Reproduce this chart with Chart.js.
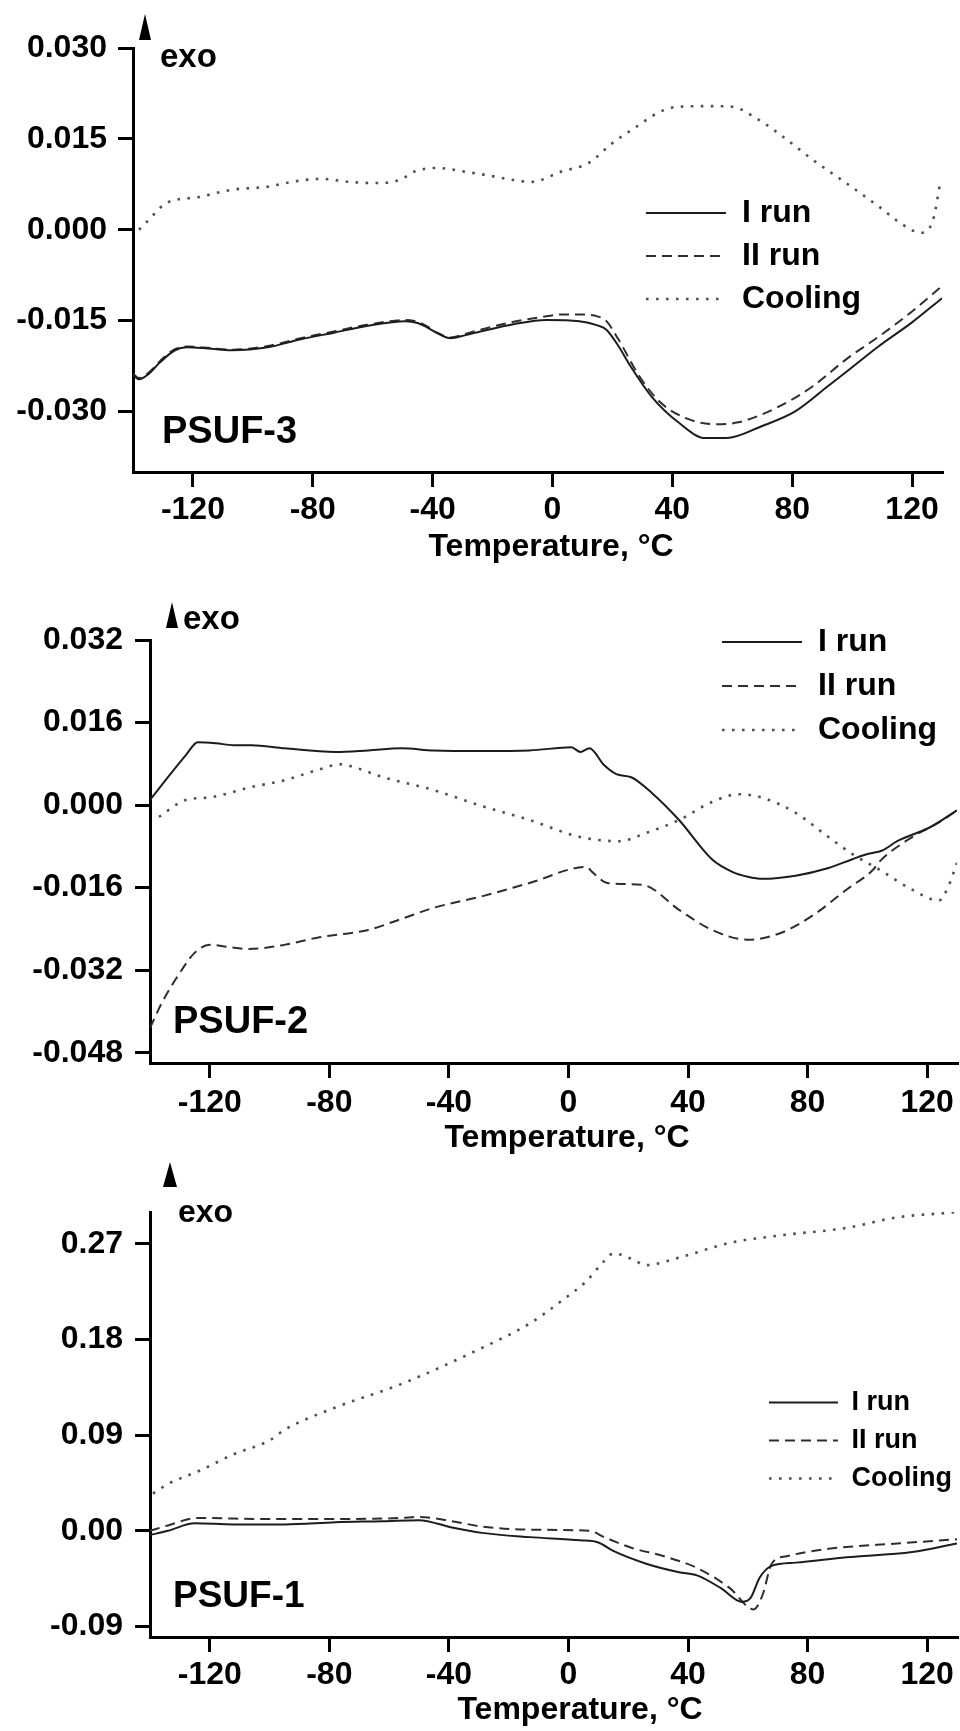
<!DOCTYPE html>
<html><head><meta charset="utf-8">
<script src="https://cdn.jsdelivr.net/npm/chart.js@4.4.1/dist/chart.umd.min.js"></script>
<style>
html,body{margin:0;padding:0;background:#fff;}
#wrap{position:relative;width:960px;height:1731px;background:#fff;}
canvas{position:absolute;left:0;}
</style></head><body>
<div id="wrap">
<canvas id="c3" width="960" height="580" style="top:0px"></canvas>
<canvas id="c2" width="960" height="580" style="top:580px"></canvas>
<canvas id="c1" width="960" height="571" style="top:1160px"></canvas>
</div>
<script>
// ---------- DATA ----------
const seriesLabels = ['I run', 'II run', 'Cooling'];
const xTicks = [-120, -80, -40, 0, 40, 80, 120];

// PSUF-3 (top panel)
const psuf3_yTicks = [-0.030, -0.015, 0.000, 0.015, 0.030];
const psuf3_T1 = [-140, -138, -135, -131, -126, -122, -115, -107, -95, -84, -73, -62, -49, -45, -42, -38, -34, -29, -24, -13, -2, 9, 15, 18, 22, 26, 33, 42, 51, 58, 70, 81, 92, 98, 109, 120, 130];
const psuf3_V1 = [-0.0240, -0.0247, -0.0239, -0.0219, -0.0199, -0.0194, -0.0196, -0.0199, -0.0194, -0.0181, -0.0170, -0.0159, -0.0151, -0.0154, -0.0161, -0.0172, -0.0179, -0.0174, -0.0168, -0.0156, -0.0149, -0.0151, -0.0158, -0.0165, -0.0192, -0.0225, -0.0275, -0.0318, -0.0344, -0.0344, -0.0324, -0.0300, -0.0258, -0.0235, -0.0192, -0.0153, -0.0113];
const psuf3_T2 = [-140, -138, -135, -131, -126, -122, -115, -107, -95, -84, -73, -62, -49, -45, -42, -38, -34, -29, -24, -13, -2, 3, 10, 15, 18, 22, 29, 36, 44, 54, 62, 76, 87, 98, 109, 120, 130];
const psuf3_V2 = [-0.0238, -0.0245, -0.0237, -0.0217, -0.0197, -0.0193, -0.0195, -0.0198, -0.0192, -0.0179, -0.0168, -0.0157, -0.0149, -0.0152, -0.0159, -0.0171, -0.0178, -0.0172, -0.0165, -0.0152, -0.0143, -0.0140, -0.0140, -0.0143, -0.0151, -0.0181, -0.0242, -0.0285, -0.0310, -0.0321, -0.0318, -0.0291, -0.0258, -0.0214, -0.0176, -0.0135, -0.0093];
const psuf3_Tc = [-138, -134, -131, -128, -118, -107, -95, -87, -77, -68, -59, -51, -46, -39, -27, -23, -13, -7, 3, 12, 20, 28, 36, 42, 53, 60, 68, 76, 87, 98, 109, 117, 123, 127, 129.5];
const psuf3_Vc = [0.0000, 0.0020, 0.0036, 0.0046, 0.0054, 0.0066, 0.0071, 0.0079, 0.0084, 0.0079, 0.0077, 0.0082, 0.0096, 0.0102, 0.0094, 0.0091, 0.0082, 0.0079, 0.0096, 0.0110, 0.0143, 0.0170, 0.0195, 0.0203, 0.0204, 0.0203, 0.0184, 0.0157, 0.0115, 0.0077, 0.0038, 0.0008, -0.0005, 0.0016, 0.0080];

// PSUF-2 (middle panel)
const psuf2_yTicks = [-0.048, -0.032, -0.016, 0.000, 0.016, 0.032];
const psuf2_T1 = [-140, -134, -128, -124, -118, -112, -106, -95, -78, -67, -56, -45, -29, -13, 1, 4, 7, 12, 16, 21, 28, 37, 48, 55, 60, 65, 76, 87, 95, 100, 105, 110, 121, 130];
const psuf2_V1 = [0.0010, 0.0054, 0.0097, 0.0122, 0.0120, 0.0116, 0.0116, 0.0110, 0.0103, 0.0106, 0.0110, 0.0106, 0.0105, 0.0106, 0.0112, 0.0103, 0.0110, 0.0077, 0.0060, 0.0054, 0.0023, -0.0029, -0.0105, -0.0130, -0.0139, -0.0143, -0.0137, -0.0122, -0.0105, -0.0095, -0.0088, -0.0070, -0.0043, -0.0010];
const psuf2_T2 = [-140, -136, -130, -125, -120, -114, -107, -95, -84, -67, -56, -45, -29, -13, 6, 8, 13, 25, 37, 48, 60, 71, 82, 93, 102, 104, 115, 125, 130];
const psuf2_V2 = [-0.0432, -0.0383, -0.0325, -0.0286, -0.0271, -0.0275, -0.0279, -0.0271, -0.0257, -0.0242, -0.0221, -0.0199, -0.0177, -0.0151, -0.0120, -0.0130, -0.0151, -0.0155, -0.0203, -0.0242, -0.0261, -0.0248, -0.0213, -0.0164, -0.0125, -0.0110, -0.0062, -0.0030, -0.0010];
const psuf2_Tc = [-137, -128, -120, -106, -95, -84, -76, -72, -62, -45, -30, -13, 4, 17, 26, 37, 48, 57, 65, 76, 87, 95, 104, 115, 124, 127, 130];
const psuf2_Vc = [-0.0023, 0.0010, 0.0015, 0.0035, 0.0048, 0.0068, 0.0079, 0.0074, 0.0054, 0.0029, 0.0000, -0.0029, -0.0062, -0.0070, -0.0054, -0.0029, 0.0006, 0.0021, 0.0014, -0.0015, -0.0062, -0.0095, -0.0125, -0.0164, -0.0185, -0.0159, -0.0112];

// PSUF-1 (bottom panel)
const psuf1_yTicks = [-0.09, 0.00, 0.09, 0.18, 0.27];
const psuf1_T1 = [-140, -134, -125, -112, -95, -78, -62, -50, -39, -29, -13, 4, 10, 15, 26, 37, 43, 51, 58, 61, 64, 68, 76, 93, 115, 130];
const psuf1_V1 = [-0.004, 0.000, 0.007, 0.006, 0.006, 0.008, 0.009, 0.010, 0.003, -0.002, -0.006, -0.009, -0.011, -0.019, -0.031, -0.039, -0.042, -0.054, -0.067, -0.063, -0.044, -0.033, -0.030, -0.025, -0.020, -0.012];
const psuf1_T2 = [-140, -134, -124, -100, -78, -56, -50, -39, -29, -13, 7, 12, 21, 32, 43, 54, 62, 65, 68, 73, 87, 110, 130];
const psuf1_V2 = [0.000, 0.005, 0.012, 0.011, 0.011, 0.012, 0.013, 0.009, 0.004, 0.001, 0.000, -0.006, -0.016, -0.024, -0.035, -0.054, -0.074, -0.060, -0.031, -0.024, -0.017, -0.012, -0.008];
const psuf1_Tc = [-139, -134, -123, -112, -100, -95, -78, -56, -29, -13, -2, 6, 12, 15, 21, 26, 37, 54, 71, 93, 110, 126, 130];
const psuf1_Vc = [0.035, 0.044, 0.057, 0.072, 0.085, 0.095, 0.116, 0.138, 0.172, 0.195, 0.217, 0.235, 0.254, 0.261, 0.256, 0.250, 0.257, 0.271, 0.278, 0.285, 0.295, 0.299, 0.300];

// ---------- RENDERING ----------
const FONT = "'Liberation Sans', Arial, Helvetica, sans-serif";
const STYLES = [
  {borderColor: '#1c1c1c', borderWidth: 2, borderDash: []},
  {borderColor: '#2e2e2e', borderWidth: 2, borderDash: [10, 6]},
  {borderColor: '#505050', borderWidth: 2.6, borderDash: [2.6, 7.4]}
];

const decor = {
  id: 'decor',
  afterLayout(chart, args, opts) {
    const lg = chart.legend;
    if (lg && opts.legendAt) {
      lg.left = opts.legendAt[0]; lg.top = opts.legendAt[1];
      lg.right = chart.width; lg.bottom = chart.height;
      lg.width = lg.right - lg.left; lg.height = lg.bottom - lg.top;
    }
  },
  afterDraw(chart, args, opts) {
    const ctx = chart.ctx;
    ctx.save();
    ctx.fillStyle = '#000';
    const a = opts.arrow;
    ctx.beginPath();
    ctx.moveTo(a[0], a[1]);
    ctx.lineTo(a[0] - a[2], a[1] + a[3]);
    ctx.lineTo(a[0] + a[2], a[1] + a[3]);
    ctx.closePath();
    ctx.fill();
    ctx.textBaseline = 'middle';
    for (const t of opts.texts) {
      ctx.font = 'bold ' + t.size + 'px ' + FONT;
      ctx.textAlign = t.align || 'left';
      ctx.fillText(t.text, t.x, t.y);
    }
    ctx.restore();
  }
};

function pts(T, V) { return T.map((t, i) => ({x: t, y: V[i]})); }

function makePanel(id, series, yTicks, yMin, yMax, dec, lay) {
  const datasets = series.map((s, i) => Object.assign({
    label: seriesLabels[i],
    data: pts(s[0], s[1]),
    pointRadius: 0,
    fill: false,
    cubicInterpolationMode: 'monotone'
  }, STYLES[i]));
  return new Chart(document.getElementById(id), {
    type: 'line',
    data: {datasets},
    plugins: [decor],
    options: {
      responsive: false,
      animation: false,
      events: [],
      layout: {padding: lay.padding},
      plugins: {
        tooltip: {enabled: false},
        title: {display: false},
        legend: {
          display: true,
          position: 'chartArea',
          align: 'start',
          labels: {
            color: '#000',
            font: {family: FONT, size: lay.legendFont, weight: 'bold'},
            usePointStyle: true,
            pointStyle: 'line',
            pointStyleWidth: lay.sampleW,
            padding: lay.legendPad,
            generateLabels: (chart) => chart.data.datasets.map((ds, i) => ({
              text: ds.label, strokeStyle: ds.borderColor, fillStyle: ds.borderColor,
              lineWidth: ds.borderWidth, lineDash: ds.borderDash, pointStyle: 'line',
              datasetIndex: i, hidden: false, fontColor: '#000'
            }))
          }
        },
        decor: dec
      },
      scales: {
        x: {
          type: 'linear', min: -140, max: 130,
          afterBuildTicks: (s) => { s.ticks = xTicks.map(v => ({value: v})); },
          afterFit: (s) => { s.height = lay.xH; },
          border: {display: true, color: '#000', width: 3},
          grid: {drawOnChartArea: false, drawTicks: true, tickLength: 15, color: '#000', lineWidth: 3},
          ticks: {color: '#000', font: {family: FONT, size: 32, weight: 'bold'}, padding: lay.xPad, maxRotation: 0, autoSkip: false, callback: (v) => String(v)}
        },
        y: {
          type: 'linear', min: yMin, max: yMax,
          afterBuildTicks: (s) => { s.ticks = yTicks.map(v => ({value: v})); },
          afterFit: (s) => { s.width = lay.yW; },
          border: {display: true, color: '#000', width: 3},
          grid: {drawOnChartArea: false, drawTicks: true, tickLength: 15, color: '#000', lineWidth: 3},
          ticks: {color: '#000', font: {family: FONT, size: 32, weight: 'bold'}, padding: lay.yPad, autoSkip: false, callback: (v) => v.toFixed(lay.dec)}
        }
      }
    }
  });
}

makePanel('c3',
  [[psuf3_T1, psuf3_V1], [psuf3_T2, psuf3_V2], [psuf3_Tc, psuf3_Vc]],
  psuf3_yTicks, -0.040, 0.030,
  {legendAt: [635, 186], arrow: [145, 14, 6, 26], texts: [
    {text: 'exo', x: 160, y: 58, size: 33},
    {text: 'PSUF-3', x: 162, y: 433, size: 38},
    {text: 'Temperature, °C', x: 551, y: 547, size: 32, align: 'center'}
  ]},
  {padding: {left: 0, top: 48, right: 18, bottom: 0}, yW: 133, xH: 108, xPad: 4, yPad: 11, dec: 3, legendFont: 32, legendPad: 11, sampleW: 80});

makePanel('c2',
  [[psuf2_T1, psuf2_V1], [psuf2_T2, psuf2_V2], [psuf2_Tc, psuf2_Vc]],
  psuf2_yTicks, -0.050, 0.032,
  {legendAt: [710, 34], arrow: [172, 22, 6, 26], texts: [
    {text: 'exo', x: 183, y: 40, size: 33},
    {text: 'PSUF-2', x: 173, y: 443, size: 38},
    {text: 'Temperature, °C', x: 567, y: 558, size: 32, align: 'center'}
  ]},
  {padding: {left: 0, top: 60, right: 3, bottom: 0}, yW: 150, xH: 97, xPad: 6, yPad: 12, dec: 3, legendFont: 32, legendPad: 12, sampleW: 80});

makePanel('c1',
  [[psuf1_T1, psuf1_V1], [psuf1_T2, psuf1_V2], [psuf1_Tc, psuf1_Vc]],
  psuf1_yTicks, -0.10, 0.30,
  {legendAt: [758, 218], arrow: [170, 2, 7, 25], texts: [
    {text: 'exo', x: 178, y: 53, size: 32},
    {text: 'PSUF-1', x: 173, y: 437, size: 37},
    {text: 'Temperature, °C', x: 580, y: 550, size: 32, align: 'center'}
  ]},
  {padding: {left: 0, top: 52, right: 3, bottom: 0}, yW: 150, xH: 94, xPad: 4, yPad: 12, dec: 2, legendFont: 27, legendPad: 11, sampleW: 69});
</script>
</body></html>
